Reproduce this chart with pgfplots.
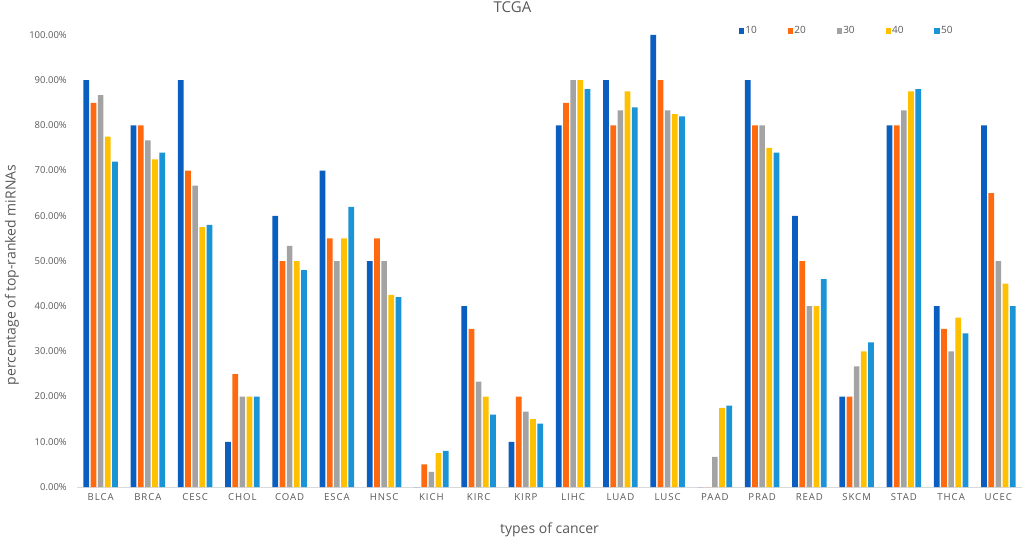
\documentclass[border=0pt]{standalone}
\usepackage{pgfplots}
\usepackage{pgfplotstable}
\usepackage{fontspec}
\setmainfont{Open Sans}
\pgfplotsset{compat=1.18}
\definecolor{c10}{HTML}{0A5EC0}
\definecolor{c20}{HTML}{FF6A10}
\definecolor{c30}{HTML}{A3A3A3}
\definecolor{c40}{HTML}{FFC000}
\definecolor{c50}{HTML}{1A94D6}
\definecolor{txt}{HTML}{595959}
\pgfplotstableread{
x s10 s20 s30 s40 s50
0 90 85 86.67 77.5 72
1 80 80 76.67 72.5 74
2 90 70 66.67 57.5 58
3 10 25 20 20 20
4 60 50 53.33 50 48
5 70 55 50 55 62
6 50 55 50 42.5 42
7 0 5 3.33 7.5 8
8 40 35 23.33 20 16
9 10 20 16.67 15 14
10 80 85 90 90 88
11 90 80 83.33 87.5 84
12 100 90 83.33 82.5 82
13 0 0 6.67 17.5 18
14 90 80 80 75 74
15 60 50 40 40 46
16 20 20 26.67 30 32
17 80 80 83.33 87.5 88
18 40 35 30 37.5 34
19 80 65 50 45 40
}\datatable
\begin{document}
\begin{tikzpicture}[x=1pt,y=1pt]
\useasboundingbox (0,0) rectangle (1024,541);
\begin{axis}[
  at={(77pt,54pt)}, anchor=south west,
  scale only axis, width=945pt, height=452pt,
  ybar=1.5pt, bar width=5.7pt,
  xmin=-0.5, xmax=19.5, ymin=0, ymax=100,
  axis x line*=bottom, axis y line*=left,
  x axis line style={draw=black!15, line width=0.8pt},
  y axis line style={draw=none},
  major tick length=0pt,
  xtick={0,...,19},
  xticklabels={BLCA,BRCA,CESC,CHOL,COAD,ESCA,HNSC,KICH,KIRC,KIRP,LIHC,LUAD,LUSC,PAAD,PRAD,READ,SKCM,STAD,THCA,UCEC},
  xticklabel style={anchor=center, yshift=-10pt, text=txt, font=\fontsize{9.6}{10}\selectfont\addfontfeatures{LetterSpace=10}},
  ytick={0,10,...,100},
  /pgf/number format/assume math mode=true,
  yticklabel={\pgfmathprintnumber[fixed,fixed zerofill,precision=2]{\tick}\%},
  yticklabel style={anchor=east, inner sep=0pt, xshift=-10pt, text=txt, font=\fontsize{9.5}{10}\selectfont},
  every axis title shift=0pt,
  title={TCGA},
  title style={at={(axis description cs:0.4608,1)}, anchor=center, yshift=27.5pt, text=txt, font=\fontsize{15}{17}\selectfont},
  xlabel={types of cancer},
  xlabel style={at={(axis description cs:0.5,0)}, anchor=center, yshift=-43pt, text=txt, font=\fontsize{14}{16}\selectfont},
  ylabel={percentage of top-ranked miRNAs},
  ylabel style={at={(axis description cs:-0.0688,0.469)}, anchor=center, text=txt, font=\fontsize{14}{16}\selectfont},
  legend columns=5,
  legend style={at={(axis description cs:0.7,1.009)}, anchor=west, draw=none, fill=none, inner sep=0pt,
    font=\fontsize{10}{11}\selectfont,
    /tikz/every even column/.append style={column sep=29.3pt},
    nodes={inner sep=1.5pt}},
  legend image code/.code={\path[#1,draw=none] (0pt,-2.6pt) rectangle (5.2pt,2.6pt);},
]
\addplot[fill=c10, draw=none] table[x=x,y=s10]{\datatable};
\addplot[fill=c20, draw=none] table[x=x,y=s20]{\datatable};
\addplot[fill=c30, draw=none] table[x=x,y=s30]{\datatable};
\addplot[fill=c40, draw=none] table[x=x,y=s40]{\datatable};
\addplot[fill=c50, draw=none] table[x=x,y=s50]{\datatable};
\legend{\textcolor{txt}{10},\textcolor{txt}{20},\textcolor{txt}{30},\textcolor{txt}{40},\textcolor{txt}{50}}
\end{axis}
\end{tikzpicture}
\end{document}
